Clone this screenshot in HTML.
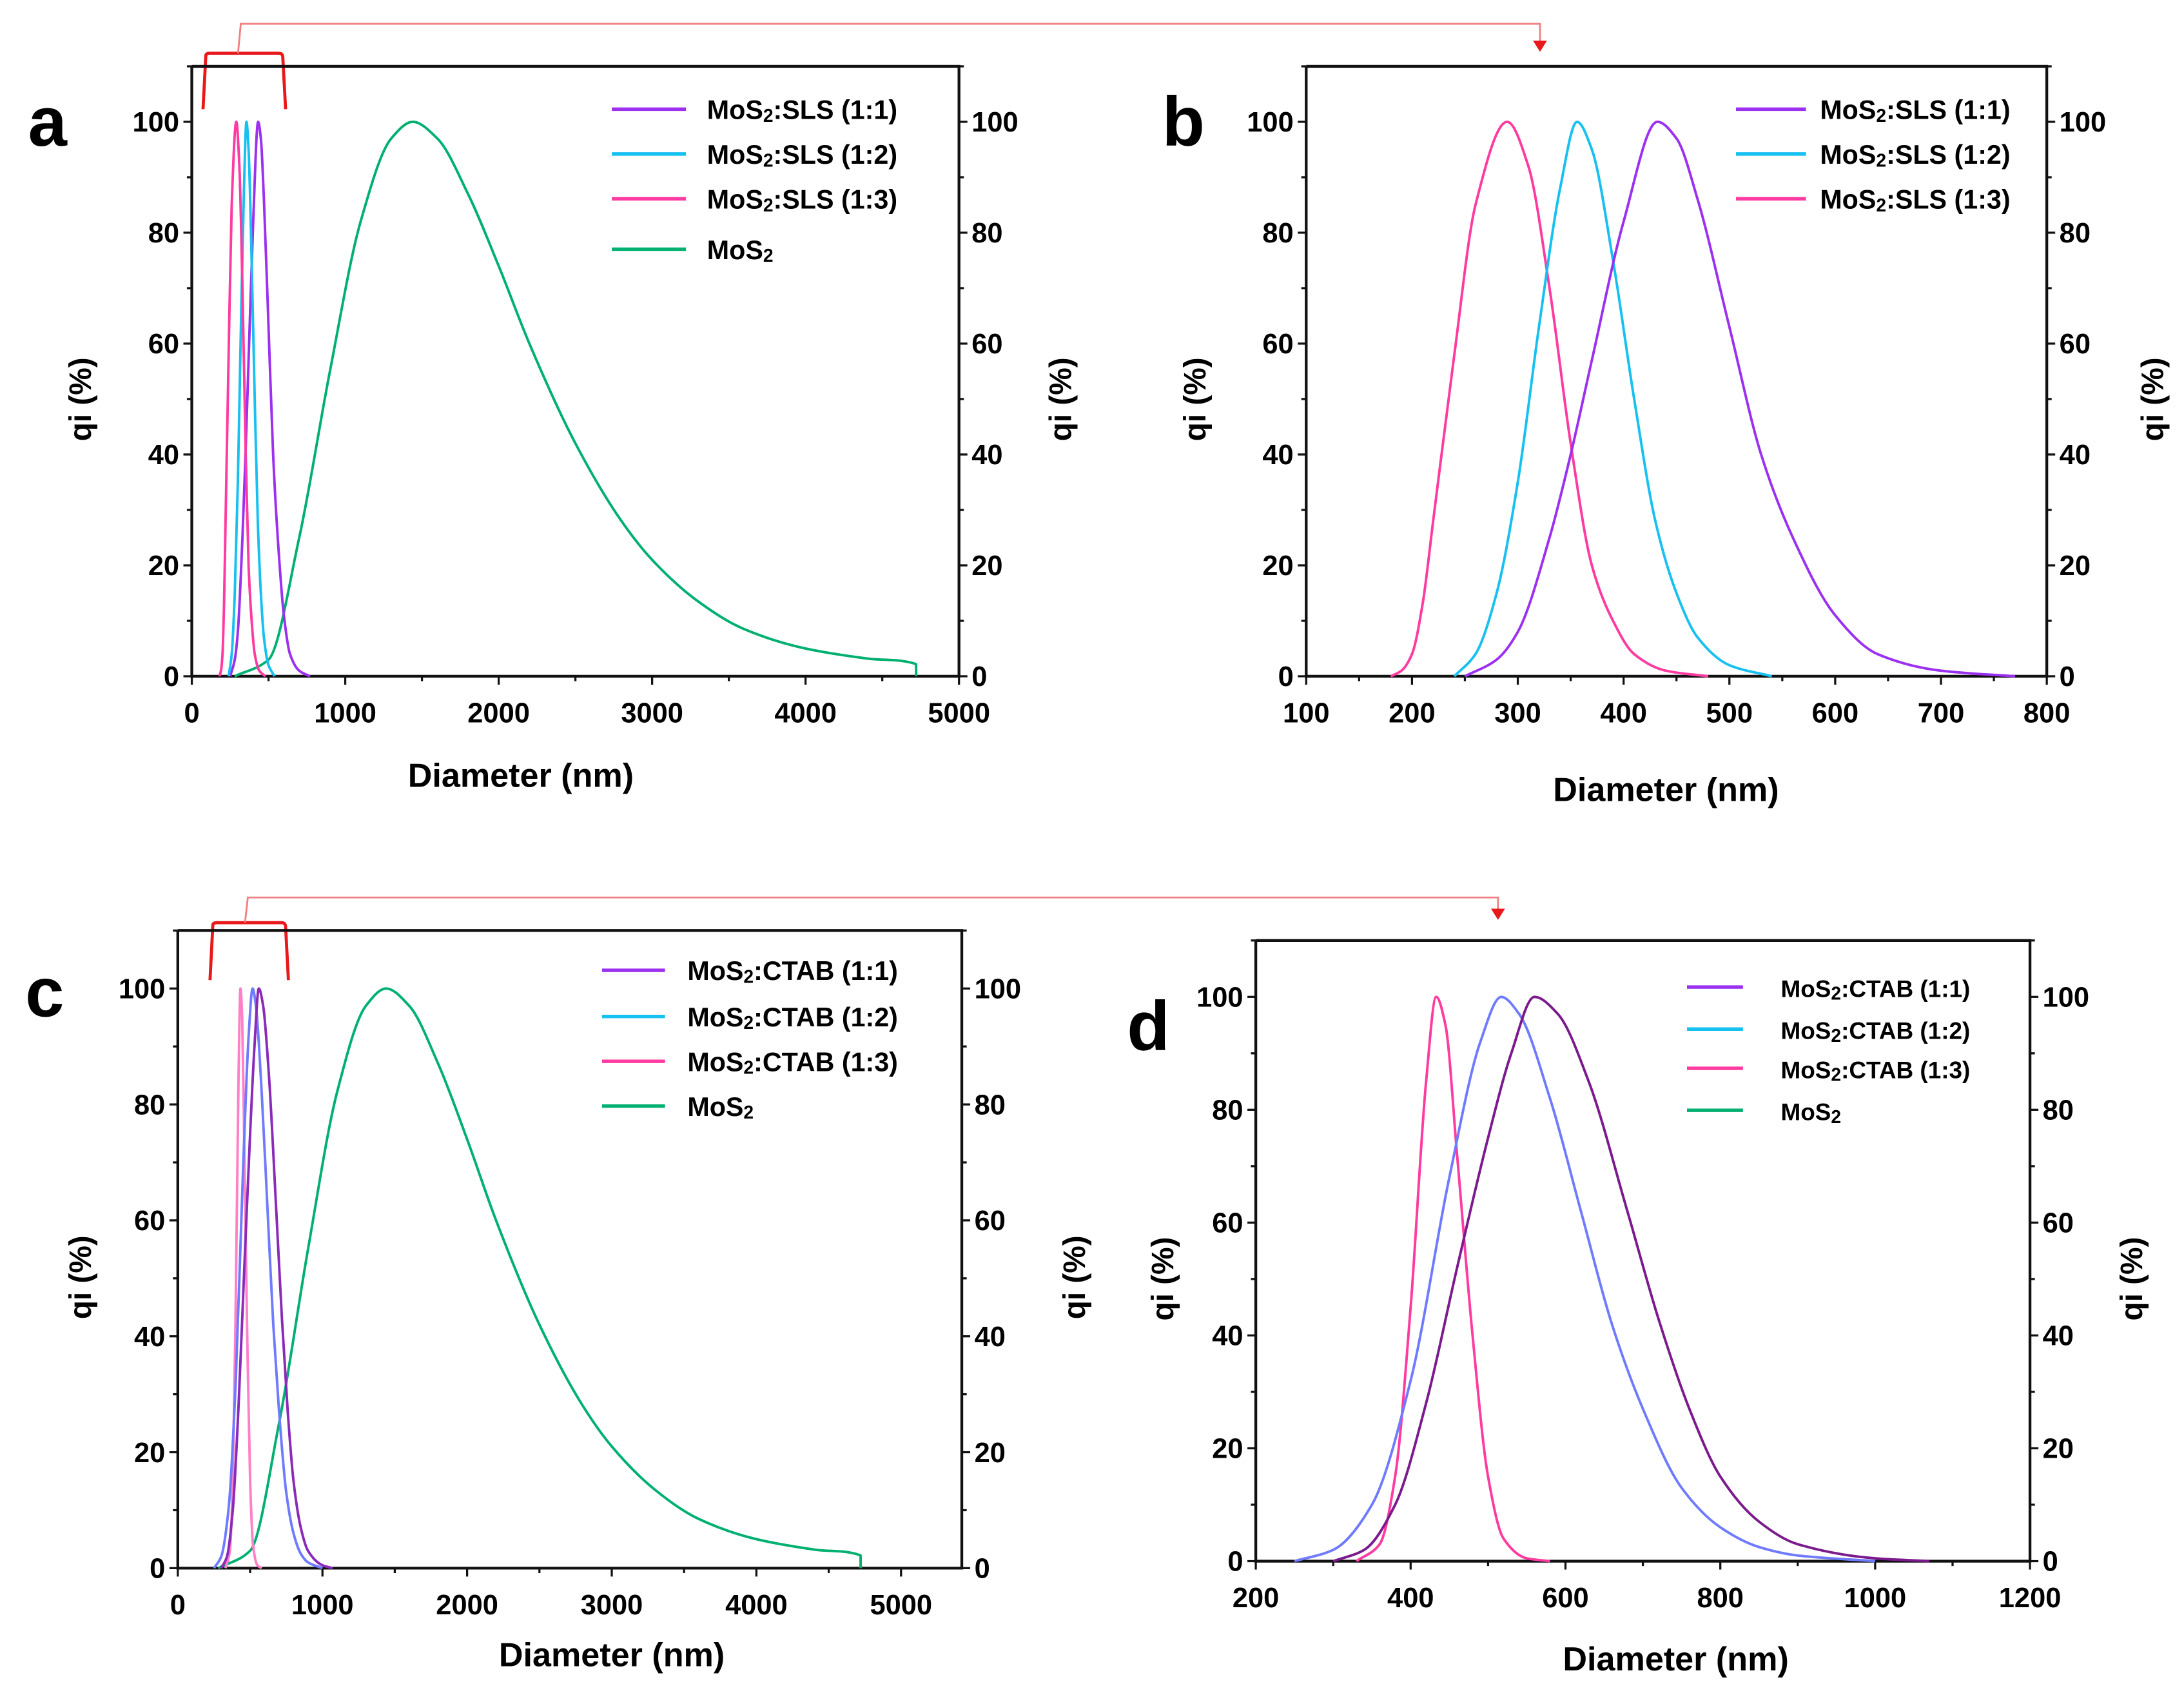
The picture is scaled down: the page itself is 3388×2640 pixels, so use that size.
<!DOCTYPE html>
<html><head><meta charset="utf-8"><style>
html,body{margin:0;padding:0;background:#fff;}
svg{display:block;font-family:"Liberation Sans",sans-serif;}
</style></head><body>
<svg id="fig" width="3388" height="2640" viewBox="0 0 1560 1215.6" xmlns="http://www.w3.org/2000/svg">
<g id="annot">
<path d="M145,78 L147,40 Q147,38 150,38 L199,38 Q202,38 202,41 L204,78" fill="none" stroke="#e8181b" stroke-width="2.2"/>
<path d="M170,38 L172,17 L1100,17 L1100,30" fill="none" stroke="#f08080" stroke-width="1.3"/>
<polygon points="1095,29 1105,29 1100,37" fill="#e8181b"/>
<path d="M150,700 L152,661 Q152,659 155,659 L201,659 Q204,659 204,662 L206,700" fill="none" stroke="#e8181b" stroke-width="2.2"/>
<path d="M175,659 L177,641 L1070,641 L1070,650" fill="none" stroke="#f08080" stroke-width="1.3"/>
<polygon points="1065,649 1075,649 1070,657" fill="#e8181b"/>
</g>
</svg>
<script>
// Panel b / a SLS series (x in nm, y in %)
const slsX11 = [250,280,300,330,350,370,400,432,450,470,500,530,560,600,640,700,770];
const slsY11 = [0,3,8,25,40,57,82,100,97,86,63,40,25,11,4,1,0];
const slsX12 = [240,260,280,300,320,340,356,370,390,410,430,450,470,500,540];
const slsY12 = [0,4,15,35,63,88,100,95,75,50,28,15,7,2,0];
const slsX13 = [180,190,200,210,220,240,260,290,310,330,350,370,390,410,440,480];
const slsY13 = [0,1,4,13,28,58,85,100,92,70,42,20,10,4,1,0];
// MoS2 pristine
const mosX = [280,500,700,900,1100,1300,1440,1600,1800,2000,2200,2500,2800,3000,3300,3600,4000,4400,4720,4721];
const mosY = [0,3,25,55,82,97,100,97,87,74,60,42,28,21,13.5,8.5,5,3.2,2.2,0];
// CTAB series
const ctabX11 = [300,340,380,420,460,500,530,560,590,630,680,720,760,800,850,900,1000,1070];
const ctabY11 = [0,2,10,28,52,75,90,100,97,85,62,43,27,15,7,3,0.5,0];
const ctabX12 = [250,300,350,400,450,490,517,540,580,620,660,700,750,800,850,900,1000];
const ctabY12 = [0,2,10,32,68,92,100,97,82,62,42,27,13,6,2.5,1,0];
const ctabX13 = [330,360,380,400,420,433,445,460,480,500,520,550,580];
const ctabY13 = [0,3,15,45,85,100,95,72,40,15,4,0.5,0];
// axis ticks
const ticksA = [0,1000,2000,3000,4000,5000];
const ticksB = [100,200,300,400,500,600,700,800];
const ticksC = [0,1000,2000,3000,4000,5000];
const ticksD = [200,400,600,800,1000,1200];
const ticksY = [0,20,40,60,80,100];

const NS="http://www.w3.org/2000/svg";
const svg=document.getElementById('fig');
function mk(tag,attrs,parent){const e=document.createElementNS(NS,tag);for(const k in attrs)e.setAttribute(k,attrs[k]);(parent||svg).appendChild(e);return e;}
// monotone cubic (Fritsch-Carlson) in screen coords
function smooth(pts){
  const n=pts.length;
  const dx=[],m=[];
  for(let i=0;i<n-1;i++){dx.push(pts[i+1][0]-pts[i][0]);m.push(dx[i]===0?0:(pts[i+1][1]-pts[i][1])/dx[i]);}
  const t=new Array(n);
  t[0]=m[0];t[n-1]=m[n-2];
  for(let i=1;i<n-1;i++){
    if(m[i-1]*m[i]<=0||dx[i]===0||dx[i-1]===0)t[i]=0;
    else{const w1=2*dx[i]+dx[i-1],w2=dx[i]+2*dx[i-1];t[i]=(w1+w2)/(w1/m[i-1]+w2/m[i]);}
  }
  let d='M'+pts[0][0].toFixed(2)+','+pts[0][1].toFixed(2);
  for(let i=0;i<n-1;i++){
    const h=dx[i];
    if(h===0){d+=' L'+pts[i+1][0].toFixed(2)+','+pts[i+1][1].toFixed(2);continue;}
    const c1=[pts[i][0]+h/3,pts[i][1]+t[i]*h/3];
    const c2=[pts[i+1][0]-h/3,pts[i+1][1]-t[i+1]*h/3];
    d+=' C'+c1[0].toFixed(2)+','+c1[1].toFixed(2)+' '+c2[0].toFixed(2)+','+c2[1].toFixed(2)+' '+pts[i+1][0].toFixed(2)+','+pts[i+1][1].toFixed(2);
  }
  return d;
}
const TF='font-weight:bold;font-family:"Liberation Sans Narrow","Liberation Sans",sans-serif;';
function panel(cfg){
  const g=mk('g',{});
  
  
  const L=cfg.L,R=cfg.R,y0=cfg.y0,y100=cfg.y100;
  const sx=v=>L+(v-cfg.xmin)/(cfg.xmax-cfg.xmin)*(R-L);
  const sy=v=>y0-(v/100)*(y0-y100);
  const top=sy(110);
  const frame=mk('path',{d:`M${L},${top} L${L},${y0} L${R},${y0} L${R},${top} L${L},${top}`,fill:'none',stroke:'#111','stroke-width':2},g);
  
  
  for(let v=0;v<=110;v+=10){
    const maj=v%20===0, len=maj?6:3.5;
    mk('line',{x1:L-len,x2:L,y1:sy(v),y2:sy(v),stroke:'#111','stroke-width':1.5},g);
    mk('line',{x1:R,x2:R+len,y1:sy(v),y2:sy(v),stroke:'#111','stroke-width':1.5},g);
  }
  ticksY.forEach(v=>{
    const t=mk('text',{x:L-9,y:sy(v)+7,'text-anchor':'end','font-size':20,style:TF},g);t.textContent=v;
    
    
    const t2=mk('text',{x:R+9,y:sy(v)+7,'text-anchor':'start','font-size':20,style:TF},g);t2.textContent=v;
    
    
  });
  const step=cfg.ticks[1]-cfg.ticks[0];
  for(let v=cfg.ticks[0];v<=cfg.xmax+1e-6;v+=step/2){
    const maj=Math.abs(((v-cfg.ticks[0])/step)-Math.round((v-cfg.ticks[0])/step))<1e-6;
    mk('line',{x1:sx(v),x2:sx(v),y1:y0,y2:y0+(maj?6:3.5),stroke:'#111','stroke-width':1.5},g);
  }
  cfg.ticks.forEach(v=>{
    const t=mk('text',{x:sx(v),y:y0+33,'text-anchor':'middle','font-size':20,style:TF},g);t.textContent=v;
    
    
  });
  const xt=mk('text',{x:cfg.xlx,y:cfg.xly,'text-anchor':'middle','font-size':24,style:TF},g);xt.textContent='Diameter (nm)';
  
  
  const cy=(sy(0)+sy(110))/2+20;
  [[cfg.ylx,'y-axis-title'],[cfg.yrx,'y2-axis-title']].forEach(([x,n])=>{
    const t=mk('text',{x:x,y:cy,'text-anchor':'middle','font-size':22,style:TF,transform:`rotate(-90 ${x} ${cy})`},g);t.textContent='qi (%)';
    
    
  });
  const pl=mk('text',{x:cfg.lx,y:cfg.ly,'font-size':50,'font-weight':'bold'},g);pl.textContent=cfg.id;
  
  
  cfg.series.forEach(s=>{
    const pts=s.x.map((v,i)=>[sx(v),sy(s.y[i])]);
    const p=mk('path',{d:smooth(pts),fill:'none',stroke:s.c,'stroke-width':1.8},g);
    
    
  });
  cfg.legend.forEach((e,i)=>{
    const y=cfg.legY[i];
    mk('line',{x1:cfg.legX,x2:cfg.legX+cfg.legW,y1:y,y2:y,stroke:e.c,'stroke-width':2.5},g);
    const t=mk('text',{x:cfg.legTx,y:y+7,'font-size':cfg.legFs,style:TF},g);
    t.innerHTML=e.t;
    
    
  });
}
const P='#9b30f0',C='#16c0f0',K='#ff3aa0',G='#00b070';
const sub='<tspan font-size="13" dy="2">2</tspan><tspan dy="-2">';
const lgS=[{c:P,t:'MoS'+sub+':SLS (1:1)</tspan>'},{c:C,t:'MoS'+sub+':SLS (1:2)</tspan>'},{c:K,t:'MoS'+sub+':SLS (1:3)</tspan>'}];
const lgC=[{c:P,t:'MoS'+sub+':CTAB (1:1)</tspan>'},{c:C,t:'MoS'+sub+':CTAB (1:2)</tspan>'},{c:K,t:'MoS'+sub+':CTAB (1:3)</tspan>'},{c:G,t:'MoS'+sub+'</tspan>'}];
panel({id:'a',L:137,R:685,xmin:0,xmax:5000,y0:483,y100:87,ticks:ticksA,xlx:372,xly:562,ylx:65,yrx:765,lx:20,ly:104,
  series:[{n:'mos2',x:mosX,y:mosY,c:G},{n:'sls-1-1',x:slsX11,y:slsY11,c:P},{n:'sls-1-2',x:slsX12,y:slsY12,c:C},{n:'sls-1-3',x:slsX13,y:slsY13,c:K}],
  legend:lgS.concat([{c:G,t:'MoS'+sub+'</tspan>'}]),legX:437,legW:53,legTx:505,legY:[78,110,142,178],legFs:19});
panel({id:'b',L:933,R:1462,xmin:100,xmax:800,y0:483,y100:87,ticks:ticksB,xlx:1190,xly:572,ylx:861,yrx:1545,lx:830,ly:104,
  series:[{n:'sls-1-3',x:slsX13,y:slsY13,c:K},{n:'sls-1-2',x:slsX12,y:slsY12,c:C},{n:'sls-1-1',x:slsX11,y:slsY11,c:P}],
  legend:lgS,legX:1240,legW:50,legTx:1300,legY:[78,110,142],legFs:19});
panel({id:'c',L:127,R:687,xmin:0,xmax:5420,y0:1120,y100:706,ticks:ticksC,xlx:437,xly:1190,ylx:65,yrx:775,lx:18,ly:726,
  series:[{n:'mos2',x:mosX,y:mosY,c:G},{n:'ctab-1-3',x:ctabX13,y:ctabY13,c:'#ff80c8'},{n:'ctab-1-2',x:ctabX12,y:ctabY12,c:'#6f7bff'},{n:'ctab-1-1',x:ctabX11,y:ctabY11,c:'#8a2ab8'}],
  legend:lgC,legX:430,legW:45,legTx:491,legY:[693,726,758,790],legFs:19});
panel({id:'d',L:897,R:1450,xmin:200,xmax:1200,y0:1115,y100:712,ticks:ticksD,xlx:1197,xly:1193,ylx:838,yrx:1530,lx:805,ly:750,
  series:[{n:'ctab-1-3',x:ctabX13,y:ctabY13,c:K},{n:'ctab-1-2',x:ctabX12,y:ctabY12,c:'#6f7bff'},{n:'ctab-1-1',x:ctabX11,y:ctabY11,c:'#7b1a8c'}],
  legend:lgC,legX:1205,legW:40,legTx:1272,legY:[705,735,763,793],legFs:17});
</script>
</body></html>
